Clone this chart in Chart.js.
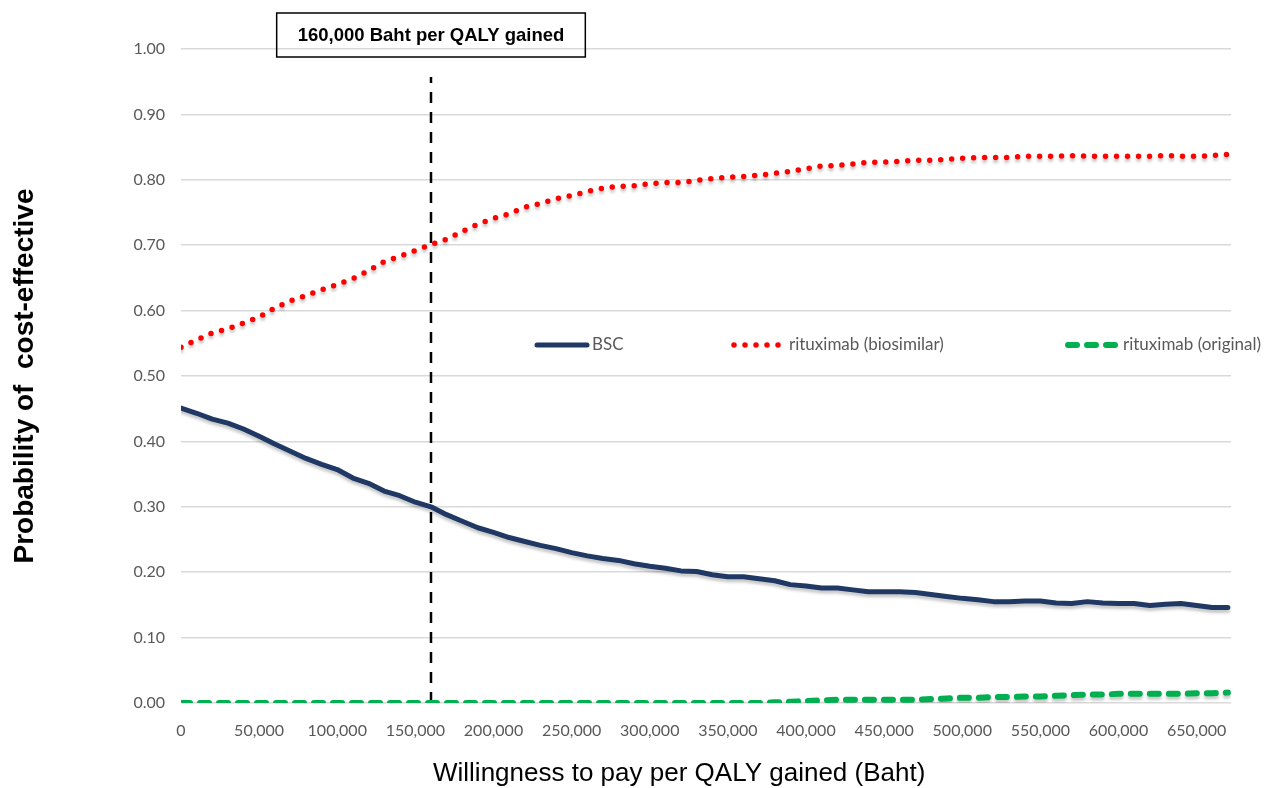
<!DOCTYPE html>
<html>
<head>
<meta charset="utf-8">
<title>Cost-effectiveness acceptability curve</title>
<script src="https://cdn.jsdelivr.net/npm/chart.js@4.4.1/dist/chart.umd.min.js"></script>
<style>
  html, body { margin: 0; padding: 0; background: #fff; }
  #wrap { width: 1272px; height: 788px; }
</style>
</head>
<body>
<div id="wrap"><canvas id="ceac" width="1272" height="788"></canvas></div>
<script>
// willingness to pay (Baht per QALY)
var wtp = [
  0, 10000, 20000, 30000, 40000, 50000, 60000, 70000, 80000, 90000,
  100000, 110000, 120000, 130000, 140000, 150000, 160000, 170000, 180000, 190000,
  200000, 210000, 220000, 230000, 240000, 250000, 260000, 270000, 280000, 290000,
  300000, 310000, 320000, 330000, 340000, 350000, 360000, 370000, 380000, 390000,
  400000, 410000, 420000, 430000, 440000, 450000, 460000, 470000, 480000, 490000,
  500000, 510000, 520000, 530000, 540000, 550000, 560000, 570000, 580000, 590000,
  600000, 610000, 620000, 630000, 640000, 650000, 660000, 670000
];

var bsc = [
  0.451, 0.443, 0.434, 0.428, 0.419, 0.408, 0.396, 0.385, 0.374, 0.365,
  0.357, 0.344, 0.336, 0.324, 0.317, 0.307, 0.300, 0.288, 0.278, 0.268,
  0.261, 0.253, 0.247, 0.241, 0.236, 0.230, 0.225, 0.221, 0.218, 0.213,
  0.209, 0.206, 0.202, 0.201, 0.196, 0.193, 0.193, 0.190, 0.187, 0.181,
  0.179, 0.176, 0.176, 0.173, 0.170, 0.170, 0.170, 0.169, 0.166, 0.163,
  0.160, 0.158, 0.155, 0.155, 0.156, 0.156, 0.153, 0.152, 0.155, 0.153,
  0.152, 0.152, 0.149, 0.151, 0.152, 0.149, 0.146, 0.146
];

var biosimilar = [
  0.544, 0.555, 0.566, 0.572, 0.581, 0.590, 0.604, 0.615, 0.623, 0.632,
  0.640, 0.649, 0.661, 0.675, 0.683, 0.692, 0.701, 0.709, 0.721, 0.732,
  0.741, 0.748, 0.758, 0.764, 0.771, 0.776, 0.782, 0.787, 0.790, 0.791,
  0.794, 0.796, 0.796, 0.799, 0.802, 0.804, 0.805, 0.807, 0.810, 0.813,
  0.817, 0.821, 0.822, 0.824, 0.827, 0.827, 0.828, 0.830, 0.830, 0.831,
  0.833, 0.834, 0.834, 0.834, 0.836, 0.836, 0.836, 0.837, 0.836, 0.836,
  0.836, 0.836, 0.836, 0.837, 0.836, 0.836, 0.837, 0.839
];

var original = [
  0, 0, 0, 0, 0, 0, 0, 0, 0, 0,
  0, 0, 0, 0, 0, 0, 0, 0, 0, 0,
  0, 0, 0, 0, 0, 0, 0, 0, 0, 0,
  0, 0, 0, 0, 0, 0, 0, 0, 0.001, 0.002,
  0.003, 0.004, 0.005, 0.005, 0.005, 0.005, 0.005, 0.005, 0.006, 0.007,
  0.008, 0.008, 0.009, 0.009, 0.010, 0.010, 0.011, 0.012, 0.013, 0.013,
  0.014, 0.014, 0.014, 0.014, 0.014, 0.015, 0.015, 0.016
];

var seriesNames = ['BSC', 'rituximab (biosimilar)', 'rituximab (original)'];

// axis tick values
var xTicks = [0, 50000, 100000, 150000, 200000, 250000, 300000, 350000,
  400000, 450000, 500000, 550000, 600000, 650000];
var yTicks = [0, 0.1, 0.2, 0.3, 0.4, 0.5, 0.6, 0.7, 0.8, 0.9, 1.0];

// threshold marker
var thresholdWtp = 160000;
var thresholdTop = 0.957;
var thresholdLabel = '160,000 Baht per QALY gained';

var xTitle = 'Willingness to pay per QALY gained (Baht)';
var yTitle = 'Probability of  cost-effective';

function toPoints(ys) {
  var pts = [];
  for (let i = 0; i < wtp.length; i++) {
    pts.push({ x: wtp[i], y: ys[i] });
  }
  return pts;
}

var tickFont = { family: 'Lato, "Open Sans", sans-serif', size: 16 };
var tickColor = '#595959';

// legend item positions (left of sample line)
var legendX = [537, 734, 1068];
var legendY = 345;

var extras = {
  id: 'extras',
  beforeDatasetDraw: function(chart, args) {
    if (args.index > 2) return;
    var ctx = chart.ctx;
    ctx.save();
    ctx.shadowColor = 'rgba(0,0,0,0.22)';
    ctx.shadowBlur = 3;
    ctx.shadowOffsetY = 3;
  },
  afterDatasetDraw: function(chart, args) {
    if (args.index > 2) return;
    chart.ctx.restore();
  },
  afterDraw: function(chart) {
    var ctx = chart.ctx;
    var xs = chart.scales.x;

    // threshold label box
    var cx = xs.getPixelForValue(thresholdWtp);
    ctx.save();
    ctx.font = 'bold 18.5px "Liberation Sans", Arial, sans-serif';
    var tw = ctx.measureText(thresholdLabel).width;
    var bw = tw + 42;
    ctx.strokeStyle = '#000';
    ctx.lineWidth = 1.5;
    ctx.strokeRect(cx - bw / 2, 13, bw, 44);
    ctx.fillStyle = '#000';
    ctx.textAlign = 'center';
    ctx.textBaseline = 'middle';
    ctx.fillText(thresholdLabel, cx, 36);
    ctx.restore();

    // legend
    ctx.save();
    for (let i = 0; i < 3; i++) {
      var ds = chart.data.datasets[i];
      var x0 = legendX[i];
      ctx.save();
      ctx.strokeStyle = ds.borderColor;
      ctx.lineWidth = ds.borderWidth;
      ctx.lineCap = ds.borderCapStyle || 'round';
      ctx.setLineDash(ds.borderDash || []);
      ctx.beginPath();
      ctx.moveTo(x0, legendY);
      ctx.lineTo(x0 + 50, legendY);
      ctx.stroke();
      ctx.restore();
      ctx.font = '17px Lato, "Open Sans", sans-serif';
      ctx.fillStyle = tickColor;
      ctx.textAlign = 'left';
      ctx.textBaseline = 'middle';
      ctx.fillText(seriesNames[i], x0 + 55, legendY);
    }
    ctx.restore();

    // x axis title
    ctx.save();
    ctx.font = '26px "Liberation Sans", Arial, sans-serif';
    ctx.fillStyle = '#000';
    ctx.textAlign = 'left';
    ctx.textBaseline = 'middle';
    ctx.fillText(xTitle, 433, 774);
    ctx.restore();
  }
};

var ctx = document.getElementById('ceac').getContext('2d');
var chart = new Chart(ctx, {
  type: 'line',
  data: {
    datasets: [{
      label: seriesNames[0],
      data: toPoints(bsc),
      borderColor: '#1f3864',
      borderWidth: 5,
      borderCapStyle: 'round',
      borderJoinStyle: 'round',
      pointRadius: 0,
      tension: 0,
    }, {
      label: seriesNames[1],
      data: toPoints(biosimilar),
      borderColor: '#ff0000',
      borderWidth: 5.5,
      borderDash: [0, 11],
      borderCapStyle: 'round',
      pointRadius: 0,
      tension: 0,
    }, {
      label: seriesNames[2],
      data: toPoints(original),
      borderColor: '#00b050',
      borderWidth: 6,
      borderDash: [9, 10],
      borderCapStyle: 'round',
      pointRadius: 0,
      tension: 0,
    }, {
      label: 'threshold',
      data: [{ x: thresholdWtp, y: 0 }, { x: thresholdWtp, y: thresholdTop }],
      borderColor: '#000',
      borderWidth: 2.5,
      borderDash: [11, 9],
      borderCapStyle: 'butt',
      pointRadius: 0,
    }],
  },
  options: {
    responsive: false,
    animation: false,
    layout: {
      padding: { top: 49, right: 41, left: 0, bottom: 0 },
    },
    plugins: {
      legend: { display: false },
      tooltip: { enabled: false },
    },
    scales: {
      x: {
        type: 'linear',
        min: 0,
        max: 672000,
        grid: { display: false },
        border: { display: false },
        afterBuildTicks: function(scale) {
          scale.ticks = xTicks.map(function(v) { return { value: v }; });
        },
        afterFit: function(scale) { scale.height = 85; },
        ticks: {
          padding: 10,
          maxRotation: 0,
          autoSkip: false,
          font: tickFont,
          color: tickColor,
          callback: function(v) { return v.toLocaleString('en-US'); },
        },
      },
      y: {
        min: 0,
        max: 1,
        grid: { color: '#d9d9d9', lineWidth: 1.5, drawTicks: false },
        border: { display: false },
        afterBuildTicks: function(scale) {
          scale.ticks = yTicks.map(function(v) { return { value: v }; });
        },
        afterFit: function(scale) { scale.width = 181; },
        ticks: {
          padding: 16,
          font: tickFont,
          color: tickColor,
          callback: function(v) { return v.toFixed(2); },
        },
        title: {
          display: true,
          text: yTitle,
          color: '#000',
          padding: { top: 8, bottom: 0 },
          font: { family: '"Liberation Sans", Arial, sans-serif', size: 28, weight: 'bold' },
        },
      },
    },
  },
  plugins: [extras],
});
</script>
</body>
</html>
